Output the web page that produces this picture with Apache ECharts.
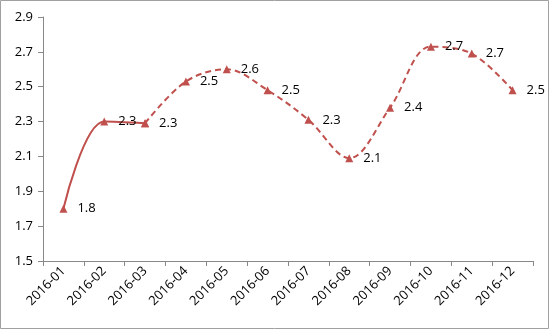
<!DOCTYPE html>
<html><head><meta charset="utf-8">
<script src="https://cdn.jsdelivr.net/npm/echarts@6/dist/echarts.min.js"></script>
<style>html,body{margin:0;padding:0;background:#fff}#c{width:550px;height:330px}</style>
</head><body><div id="c"></div>
<script>
var categories = ['2016-01','2016-02','2016-03','2016-04','2016-05','2016-06','2016-07','2016-08','2016-09','2016-10','2016-11','2016-12'];
var values = [1.80, 2.30, 2.29, 2.53, 2.60, 2.48, 2.31, 2.09, 2.38, 2.73, 2.69, 2.48];
var yTicks = [1.5, 1.7, 1.9, 2.1, 2.3, 2.5, 2.7, 2.9];
var solidEnd = 2; // index where solid part ends

var solidData = values.map(function(v,i){ return i <= solidEnd ? v : '-'; });
var dashedData = values.map(function(v,i){ return i >= solidEnd ? v : '-'; });
var red = '#C0504D';
var font = 'Open Sans, Liberation Sans, sans-serif';
var chart = echarts.init(document.getElementById('c'));
var labelCfg = {
  show: true, position: 'right', distance: 10, color: '#000', fontSize: 13, fontFamily: font,
  formatter: function(p){ return Number(p.value).toFixed(1); }
};
chart.setOption({
  animation: false,
  graphic: [{type:'rect', shape:{x:0.5,y:0.5,width:548,height:328}, style:{fill:'none', stroke:'#a0a0a0', lineWidth:1}, silent:true}],
  grid: {left: 43, right: 17, top: 17, bottom: 69},
  xAxis: {
    type: 'category', data: categories, boundaryGap: true,
    axisLine: {lineStyle: {color: '#888'}},
    axisTick: {show: true, alignWithLabel: false, length: 5, lineStyle:{color:'#888'}},
    axisLabel: {rotate: 45, color: '#000', fontSize: 13, margin: 8, fontFamily: font, interval: 0},
    splitLine: {show: false}
  },
  yAxis: {
    type: 'value', min: 1.5, max: 2.9, interval: 0.2,
    axisLine: {show: true, lineStyle: {color: '#888'}},
    axisTick: {show: true, length: 5, lineStyle:{color:'#888'}},
    axisLabel: {color: '#000', fontSize: 13, margin: 10, fontFamily: font,
      formatter: function(v){ return v.toFixed(1); }},
    splitLine: {show: false}
  },
  series: [
    {type: 'line', data: solidData, smooth: 0.35, symbol: 'triangle', symbolSize: 8,
     lineStyle: {color: red, width: 2}, itemStyle: {color: red},
     label: Object.assign({}, labelCfg, {formatter: function(p){ return p.dataIndex < solidEnd ? Number(p.value).toFixed(1) : ''; }})},
    {type: 'line', data: dashedData, smooth: 0.35, symbol: 'triangle', symbolSize: 8,
     lineStyle: {color: red, width: 2, type: [6,4]}, itemStyle: {color: red},
     label: labelCfg}
  ]
});
</script></body></html>
